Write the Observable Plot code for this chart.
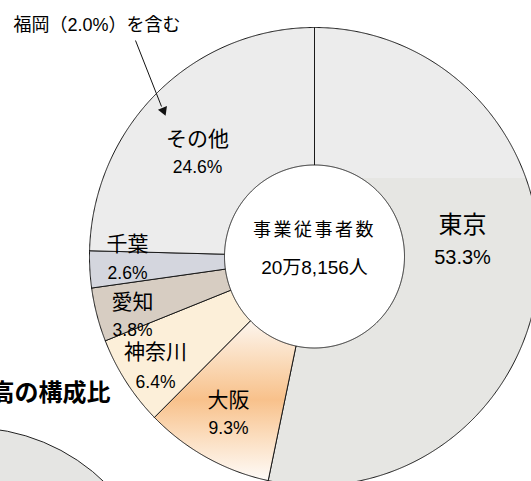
<!DOCTYPE html>
<html><head><meta charset="utf-8">
<script src="https://cdn.jsdelivr.net/npm/d3@7"></script>
<script src="https://cdn.jsdelivr.net/npm/@observablehq/plot@0.6"></script>
<style>html,body{margin:0;padding:0;background:#fff;overflow:hidden}</style>
</head><body><div id="chart"></div>
<script>
// ---- data ----
const names = ["東京", "大阪", "神奈川", "愛知", "千葉", "その他"];
const shares = [53.3, 9.3, 6.4, 3.8, 2.6, 24.6];
const pctLabels = ["53.3%", "9.3%", "6.4%", "3.8%", "2.6%", "24.6%"];
const centerTitle = "事業従事者数";
const centerValue = "20万8,156人";
const noteText = "福岡（2.0%）を含む";
const sectionTitle = "高の構成比";

// ---- styles / layout ----
const W = 531, H = 481;
const FONT = "'Liberation Sans', 'Noto Sans CJK JP', sans-serif";
const fills = ["url(#gTokyo)", "url(#gOsaka)", "#fcefd9", "#d7cdc2", "#d4d6de", "#ececec"];
const C = {x: 314, y: 256, rx: 225, ry: 229, ix: 90, iy: 91.5};
const labelPos = [
  {nx: 462, ny: 225, px: 462, py: 257, ns: 24, ps: 20},
  {nx: 228, ny: 400, px: 228, py: 428, ns: 21, ps: 17.5},
  {nx: 155, ny: 352, px: 155, py: 382, ns: 21, ps: 17.5},
  {nx: 132, ny: 302, px: 132, py: 330, ns: 21, ps: 17.5},
  {nx: 127, ny: 244, px: 127, py: 273, ns: 21, ps: 17.5},
  {nx: 197, ny: 139, px: 197, py: 167, ns: 21, ps: 17.5}
];
const centerPos = {x: 314, y1: 230, y2: 267};
const notePos = {x: 13, y: 25, ax1: 135, ay1: 40, ax2: 161, ay2: 106, hx: 163, hy: 110};
const titlePos = {x: 110, y: 393};
const otherPie = [{x: -31, y: 621}];
const otherPieRadius = 194;

const arcs = d3.pie().sort(null).value(d => d)(shares);
const slices = arcs.map((a, i) => {
  const n = Math.max(4, Math.ceil((a.endAngle - a.startAngle) / 0.005));
  const pts = [];
  for (let k = 0; k <= n; k++) {
    const t = a.startAngle + (a.endAngle - a.startAngle) * k / n;
    pts.push({x: C.x + C.rx * Math.sin(t), y: C.y - C.ry * Math.cos(t)});
  }
  for (let k = n; k >= 0; k--) {
    const t = a.startAngle + (a.endAngle - a.startAngle) * k / n;
    pts.push({x: C.x + C.ix * Math.sin(t), y: C.y - C.iy * Math.cos(t)});
  }
  pts.push(pts[0]);
  return {name: names[i], fill: fills[i], pts};
});

const labels = names.map((n, i) => ({name: n, pct: pctLabels[i], ...labelPos[i]}));

const defsMark = () => {
  const defs = d3.create("svg:defs");
  const t = defs.append("linearGradient").attr("id", "gTokyo").attr("gradientUnits", "userSpaceOnUse")
    .attr("x1", 0).attr("y1", 0).attr("x2", 0).attr("y2", H);
  t.append("stop").attr("offset", 178 / H).attr("stop-color", "#ececec");
  t.append("stop").attr("offset", 178 / H).attr("stop-color", "#e6e6e3");
  const o = defs.append("linearGradient").attr("id", "gOsaka").attr("gradientUnits", "userSpaceOnUse")
    .attr("x1", 0).attr("y1", 318).attr("x2", 0).attr("y2", 480);
  o.append("stop").attr("offset", 0).attr("stop-color", "#fdf7f1");
  o.append("stop").attr("offset", 0.3).attr("stop-color", "#fad7b3");
  o.append("stop").attr("offset", 0.5).attr("stop-color", "#f8c18b");
  o.append("stop").attr("offset", 0.72).attr("stop-color", "#fbdcbc");
  o.append("stop").attr("offset", 1).attr("stop-color", "#fefbf8");
  return defs.node();
};

const plot = Plot.plot({
  width: W, height: H, margin: 0,
  x: {domain: [0, W], axis: null},
  y: {domain: [0, H], reverse: true, axis: null},
  style: {background: "white", overflow: "hidden"},
  marks: [
    defsMark,
    Plot.dot(otherPie, {x: "x", y: "y", r: otherPieRadius, fill: "#e5e5e3", stroke: "#222", strokeWidth: 1}),
    ...slices.map(s => Plot.line(s.pts, {x: "x", y: "y", fill: s.fill, stroke: "#1a1a1a", strokeWidth: 1, curve: "linear"})),
    Plot.text(labels, {x: "nx", y: "ny", text: "name", fontSize: "ns", fontFamily: FONT, fill: "#000"}),
    Plot.text(labels, {x: "px", y: "py", text: "pct", fontSize: "ps", fontFamily: FONT, fill: "#000"}),
    Plot.text([centerTitle], {x: () => centerPos.x, y: () => centerPos.y1, text: d => d, fontSize: 18, fontFamily: FONT, fill: "#000"}),
    Plot.text([centerValue], {x: () => centerPos.x, y: () => centerPos.y2, text: d => d, fontSize: 19, fontFamily: FONT, fill: "#000"}),
    Plot.text([noteText], {x: () => notePos.x, y: () => notePos.y, text: d => d, fontSize: 18, textAnchor: "start", fontFamily: FONT, fill: "#000"}),
    Plot.link([notePos], {x1: "ax1", y1: "ay1", x2: "ax2", y2: "ay2", stroke: "#111", strokeWidth: 1}),
    Plot.dot([notePos], {x: "hx", y: "hy", symbol: "triangle", r: 3.6, rotate: 158, fill: "#111", stroke: "none"}),
    Plot.text([sectionTitle], {x: () => titlePos.x, y: () => titlePos.y, text: d => d, fontSize: 24, fontWeight: "bold", textAnchor: "end", fontFamily: FONT, fill: "#000"})
  ]
});
d3.select(plot).selectAll("text").filter(function() { return this.textContent === centerTitle; }).attr("letter-spacing", "2.5px");
document.getElementById("chart").appendChild(plot);
</script></body></html>
